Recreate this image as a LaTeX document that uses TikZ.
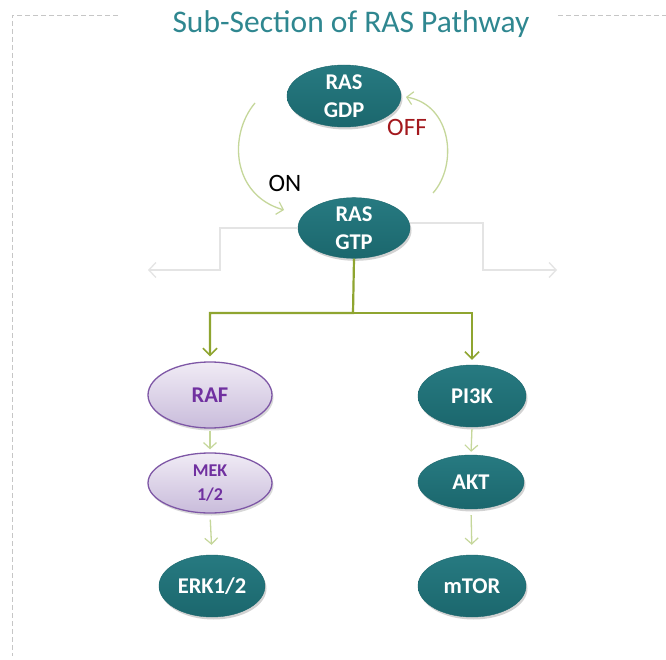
\documentclass[tikz,border=0pt]{standalone}
\usepackage{fontspec}
\setmainfont{Carlito}
\usetikzlibrary{shapes.geometric,arrows.meta,shadows}
\definecolor{teal1}{HTML}{1B676D}
\definecolor{teal2}{HTML}{277A81}
\definecolor{titlec}{HTML}{2F8790}
\definecolor{purpc}{HTML}{7030A0}
\definecolor{purpd}{HTML}{7E57A6}
\definecolor{lavtop}{HTML}{F0EBF5}
\definecolor{lavbot}{HTML}{C9BCDB}
\definecolor{olive}{HTML}{8FA530}
\definecolor{lgreen}{HTML}{C5D79A}
\definecolor{lgray}{HTML}{E4E4E4}
\definecolor{offred}{HTML}{A3181D}
\tikzset{
  tealnode/.style={ellipse, inner sep=0pt, top color=teal2, bottom color=teal1,
    draw=teal1, text=white, font=\bfseries\fontsize{22.5}{28}\selectfont, align=center,
    drop shadow={shadow xshift=1.5pt, shadow yshift=-2.5pt, opacity=0.35, fill=gray}},
  purpnode/.style={ellipse, inner sep=0pt, top color=lavtop, bottom color=lavbot,
    draw=purpd, line width=1.3pt, text=purpc, font=\bfseries\fontsize{22.5}{28}\selectfont, align=center,
    drop shadow={shadow xshift=1.5pt, shadow yshift=-2.5pt, opacity=0.3, fill=gray}},
  treearrow/.style={draw=olive, line width=2.2pt, -{Straight Barb[length=7pt,width=14pt,line width=1.6pt]}},
  smallarrow/.style={draw=lgreen, line width=1.3pt, -{Straight Barb[length=6pt,width=13pt,line width=1.2pt]}},
  cyclearrow/.style={draw=lgreen, line width=1.3pt, -{Straight Barb[length=6pt,width=13pt,line width=1.2pt]}},
  grayarrow/.style={draw=lgray, line width=1.5pt, -{Straight Barb[length=7pt,width=15pt,line width=1.3pt]}},
  framel/.style={draw=gray!45, line width=0.8pt, dash pattern=on 5pt off 3pt}
}
\begin{document}
\begin{tikzpicture}[x=1pt,y=-1pt]
\useasboundingbox[fill=white] (0,0) rectangle (666,660);
% frame
\draw[framel] (118,15) -- (12,15) -- (12,656);
\draw[framel] (558,15) -- (666,15);
% title
\node[text=titlec, font=\fontsize{31.5}{36}\selectfont, anchor=base] (title) at (351,33) {Sub-Section of RAS Pathway};
% nodes
\node[tealnode, minimum width=114pt, minimum height=62pt] (gdp) at (344,96) {RAS\\GDP};
\node[tealnode, minimum width=112pt, minimum height=58pt] (gtp) at (354,228) {RAS\\GTP};
\node[purpnode, minimum width=124pt, minimum height=66pt] (raf) at (210,395) {RAF};
\node[purpnode, minimum width=124pt, minimum height=60pt, font=\bfseries\fontsize{18}{24}\selectfont] (mek) at (210,483) {MEK\\1/2};
\node[tealnode, minimum width=106pt, minimum height=62pt] (erk) at (212,586) {ERK1/2};
\node[tealnode, minimum width=108pt, minimum height=62pt] (pi3k) at (472,396) {PI3K};
\node[tealnode, minimum width=106pt, minimum height=54pt] (akt) at (471,482) {AKT};
\node[tealnode, minimum width=108pt, minimum height=62pt] (mtor) at (472,586) {mTOR};
% labels
\node[text=offred, font=\fontsize{25}{30}\selectfont] (off) at (407,127) {OFF};
\node[text=black, font=\fontsize{25}{30}\selectfont] (on) at (285,183) {ON};
% cycle arcs
\coordinate (la) at (255,103);
\coordinate (lb) at (284,210);
\coordinate (ra) at (433,193);
\coordinate (rb) at (406,97);
\draw[cyclearrow] (la) .. controls (228,135) and (232,195) .. (lb);
\draw[cyclearrow] (ra) .. controls (458,165) and (452,105) .. (rb);
% gray side paths
\coordinate (gl1) at (220,228);
\coordinate (gl2) at (220,270);
\coordinate (gl3) at (148,270);
\coordinate (gr1) at (483,223);
\coordinate (gr2) at (483,270);
\coordinate (gr3) at (557,270);
\draw[grayarrow] (gtp.west) -- (gl1) -- (gl2) -- (gl3);
\draw[grayarrow] (gtp.east |- gr1) -- (gr1) -- (gr2) -- (gr3);
% tree
\coordinate (split) at (353,313);
\draw[treearrow, shorten >=5pt] (gtp.south) -- (split) -| (raf.north);
\draw[treearrow, shorten >=5pt] (split) -| (pi3k.north);
% small arrows
\draw[smallarrow, shorten <=2pt, shorten >=3pt] (raf.south) -- (mek.north);
\draw[smallarrow, shorten <=6pt, shorten >=10pt] (mek.south) -- (erk.north);
\draw[smallarrow, shorten <=2pt, shorten >=3pt] (pi3k.south) -- (akt.north);
\draw[smallarrow, shorten <=6pt, shorten >=10pt] (akt.south) -- (mtor.north);
\end{tikzpicture}
\end{document}
